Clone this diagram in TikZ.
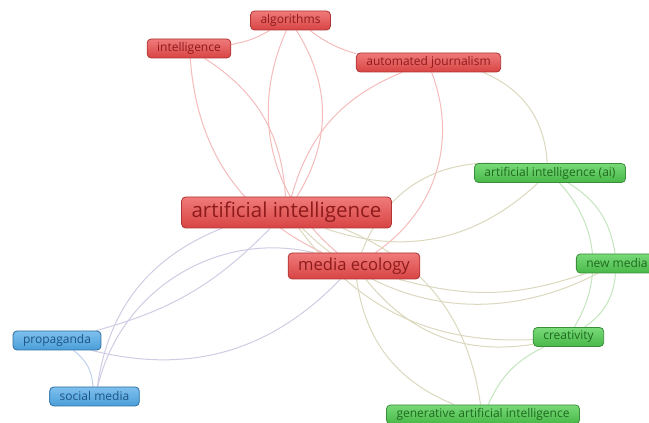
\documentclass[tikz,border=0pt]{standalone}
\usepackage{fontspec}
\setmainfont{Open Sans}
\usetikzlibrary{backgrounds}

\definecolor{redtop}{HTML}{F07A7A}
\definecolor{redbot}{HTML}{D84444}
\definecolor{redrim}{HTML}{B03434}
\definecolor{redtxt}{HTML}{8E1B1B}
\definecolor{greentop}{HTML}{78DA78}
\definecolor{greenbot}{HTML}{48B848}
\definecolor{greenrim}{HTML}{3A8E3A}
\definecolor{greentxt}{HTML}{1F6A1F}
\definecolor{bluetop}{HTML}{7EC0EE}
\definecolor{bluebot}{HTML}{4A9ED8}
\definecolor{bluerim}{HTML}{2D6E9E}
\definecolor{bluetxt}{HTML}{1E5584}
\definecolor{redlink}{HTML}{F6BBBB}
\definecolor{greenlink}{HTML}{C4E6BE}
\definecolor{bluelink}{HTML}{BFD2EE}
\definecolor{mixlink}{HTML}{DCD8BE}
\definecolor{purplink}{HTML}{D0CCE4}

\begin{document}
\begin{tikzpicture}[
  x=1pt, y=1pt,
  kw/.style={rectangle, rounded corners=4pt, line width=0.8pt,
             minimum height=19pt, inner xsep=10pt, inner ysep=0pt,
             font=\fontsize{12}{12}\selectfont},
  redkw/.style={kw, draw=redrim, top color=redtop, bottom color=redbot, text=redtxt},
  greenkw/.style={kw, draw=greenrim, top color=greentop, bottom color=greenbot, text=greentxt},
  bluekw/.style={kw, draw=bluerim, top color=bluetop, bottom color=bluebot, text=bluetxt},
  link/.style={line width=1pt},
]
\clip (0,0) rectangle (649,423);

%% red cluster
\node[redkw] (algo)   at (290.5,402.5) {algorithms};
\node[redkw] (intel)  at (189,374.5)   {intelligence};
\node[redkw] (autoj)  at (428.5,360.5) {automated journalism};
\node[redkw, minimum height=31pt, font=\fontsize{20.5}{20.5}\selectfont]
             (artint) at (286.5,210.5) {artificial intelligence};
\node[redkw, minimum height=26pt, font=\fontsize{16.6}{16.6}\selectfont]
             (medeco) at (354,157)     {media ecology};

%% green cluster
\node[greenkw] (aiabbr) at (550,250)   {artificial intelligence (ai)};
\node[greenkw] (newmed) at (617,159.5) {new media};
\node[greenkw] (creat)  at (568.5,86)  {creativity};
\node[greenkw] (genai)  at (483,8.5)   {generative artificial intelligence};

%% blue cluster
\node[bluekw] (propa)  at (57,82.5)   {propaganda};
\node[bluekw] (socmed) at (94.5,26.5) {social media};

%% links behind the labels
\begin{scope}[on background layer]
  \fill[white] (0,0) rectangle (649,423);
  % within red
  \draw[link, redlink] (algo) to[bend left=10] (intel);
  \draw[link, redlink] (algo) to[bend right=10] (autoj);
  \draw[link, redlink] (algo) to[bend left=32] (artint);
  \draw[link, redlink] (algo) to[bend right=37] (medeco);
  \draw[link, redlink] (intel) to[bend right=30] (medeco);
  \draw[link, redlink] (intel) to[bend left=27] (artint);
  \draw[link, redlink] (autoj) to[bend right=26] (artint);
  \draw[link, redlink] (autoj) to[bend left=38] (medeco);
  % red to green
  \draw[link, mixlink] (autoj) to[bend left=32] (aiabbr);
  \draw[link, mixlink] (artint) to[bend right=31] (aiabbr);
  \draw[link, mixlink] (medeco) to[bend left=35] (aiabbr);
  \draw[link, mixlink] (medeco) to[bend right=17] (newmed);
  \draw[link, mixlink] (artint) to[bend right=36] (newmed);
  \draw[link, mixlink] (medeco) to[bend right=30] (creat);
  \draw[link, mixlink] (artint) to[bend right=28] (creat);
  \draw[link, mixlink] (artint) to[bend left=30] (genai);
  \draw[link, mixlink] (medeco) to[bend right=30] (genai);
  % within green
  \draw[link, greenlink] (aiabbr) to[bend left=37] (creat);
  \draw[link, greenlink] (aiabbr) to[bend left=25] (newmed);
  \draw[link, greenlink] (newmed) to[bend left=25] (creat);
  \draw[link, greenlink] (creat) to[bend right=20] (genai);
  % blue
  \draw[link, bluelink] (propa) to[bend left=25] (socmed);
  \draw[link, purplink] (propa) to[bend right=15] (artint);
  \draw[link, purplink] (propa) to[bend right=30] (medeco);
  \draw[link, purplink] (socmed) to[bend left=30] (artint);
  \draw[link, purplink] (socmed) to[bend left=45] (medeco);
\end{scope}
\end{tikzpicture}
\end{document}
